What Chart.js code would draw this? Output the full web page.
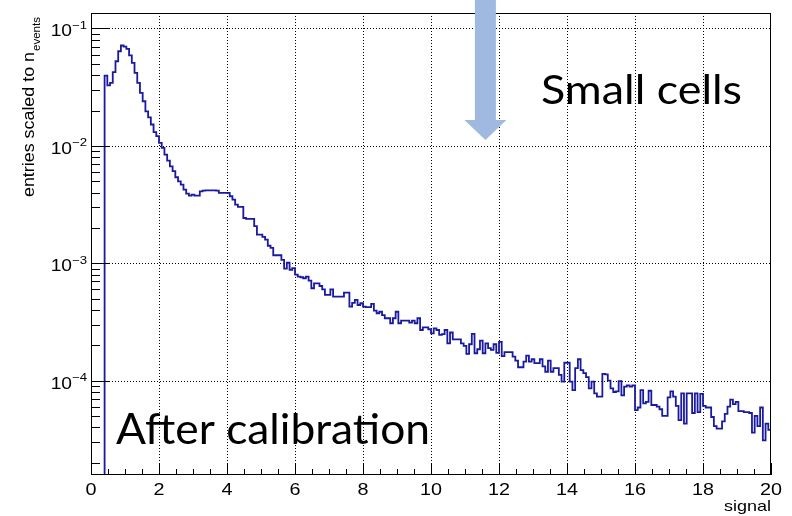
<!DOCTYPE html>
<html><head><meta charset="utf-8">
<script src="https://cdn.jsdelivr.net/npm/chart.js@4"></script>
<style>html,body{margin:0;padding:0;background:#fff}#wrap{width:792px;height:516px;position:relative}canvas{display:block}</style>
</head><body><div id="wrap"><canvas id="c" width="792" height="516"></canvas></div>
<script>
// ---- data ----
const binStart = 0.4;
const binWidth = 0.08;
const xMin = 0, xMax = 20;
const yMin = 1.57e-5, yMax = 0.1355;
const xTickValues = [0, 2, 4, 6, 8, 10, 12, 14, 16, 18, 20];
const xTickLabels = ["0", "2", "4", "6", "8", "10", "12", "14", "16", "18", "20"];
const yTickValues = [1e-1, 1e-2, 1e-3, 1e-4];
const yTickExponents = ["\u22121", "\u22122", "\u22123", "\u22124"];
const xTitle = "signal";
const yTitleMain = "entries scaled to n";
const yTitleSub = "events";
const annotationTop = "Small cells";
const annotationBottom = "After calibration";
const arrowAtX = 11.6;

// entries per bin (bin i covers binStart + i*binWidth ... + binWidth)
const entries = [
 0.0397,0.0327,0.0344,0.0425,0.0526,0.064,0.0716,0.070,0.0671,0.0591,
 0.051,0.0419,0.0344,0.0283,0.024,0.0197,0.0175,0.0152,0.0131,0.0121,
 0.0106,0.0096,0.00843,0.0075,0.0067,0.0061,0.0054,0.00499,0.00468,0.00424,
 0.00392,0.00377,0.00384,0.00377,0.00377,0.0041,0.00416,0.00418,0.00418,0.00418,
 0.00418,0.00416,0.00397,0.00397,0.00397,0.00397,0.00372,0.00348,0.00316,0.00302,
 0.00302,0.00243,0.00239,0.00239,0.00239,0.00207,0.00175,0.00175,0.00168,0.00159,
 0.00141,0.00135,0.00117,0.00117,0.00117,0.00107,0.0009,0.00101,0.00088,0.00091,
 0.0008,0.00077,0.00076,0.000745,0.00077,0.000711,0.000612,0.000675,0.000675,0.00064,
 0.0006,0.000537,0.000537,0.0006,0.000519,0.000519,0.000519,0.000519,0.000561,0.000561,
 0.000427,0.00046,0.000487,0.000441,0.000456,0.000427,0.000422,0.000422,0.00045,0.000394,
 0.000375,0.000386,0.000362,0.00034,0.00034,0.000308,0.00034,0.000386,0.000308,0.000324,
 0.000324,0.000324,0.000312,0.000324,0.000308,0.00034,0.00027,0.000284,0.000284,0.000274,
 0.000253,0.000279,0.00027,0.000245,0.000249,0.00027,0.000208,0.000257,0.000225,0.000225,
 0.000225,0.000208,0.000198,0.000169,0.000204,0.00025,0.000171,0.000185,0.000219,0.000171,
 0.000208,0.000189,0.000183,0.000204,0.000172,0.000214,0.000162,0.000175,0.000175,0.000175,
 0.00016,0.000148,0.00013,0.00013,0.000145,0.000163,0.000145,0.000152,0.000141,0.000141,
 0.000152,0.000132,0.000119,0.000148,0.000119,0.000128,0.000128,0.000112,0.000098,0.000142,
 0.000142,0.000098,0.000083,0.000128,0.000152,0.000123,0.000116,0.000107,0.000086,0.000098,
 0.000078,0.000073,0.000073,0.000114,0.000113,0.0001,0.000086,0.00008,0.000081,0.000099,
 0.000075,0.000089,0.000091,0.000089,0.000091,0.000056,0.000059,0.000083,0.000064,0.000066,
 0.000082,0.000062,0.000062,0.00006,0.000057,0.00005,0.00005,0.000072,0.000081,0.000073,
 0.000061,0.000046,0.000078,0.000043,0.000078,0.000078,0.000053,0.000078,0.000054,0.000077,
 0.000061,0.000059,0.000059,0.000049,0.000041,0.000039,0.000039,0.000045,0.000052,0.00006,
 0.000069,0.000063,0.000066,0.000055,0.000055,0.000054,0.000054,0.000053,0.000036,0.00005,
 0.000041,0.000059,0.000031,0.000043,0.000038
];

// build step-histogram points (left bin edges) from the data
const points = [{x: binStart, y: yMin / 100}];
entries.forEach((v, i) => points.push({x: binStart + i * binWidth, y: v}));
points.push({x: binStart + entries.length * binWidth, y: entries[entries.length - 1]});

const AXIS_FONT = '"Liberation Sans", Arial, sans-serif';
const SX = 1.2; // horizontal stretch of axis texts in the reference

function stretchedText(ctx, text, x, y, font, align, sx, color) {
  ctx.save();
  ctx.font = font;
  ctx.fillStyle = color || '#000';
  ctx.textBaseline = 'alphabetic';
  const w = ctx.measureText(text).width * sx;
  let x0 = x;
  if (align === 'center') x0 = x - w / 2;
  else if (align === 'right') x0 = x - w;
  ctx.translate(x0, y);
  ctx.scale(sx, 1);
  ctx.textAlign = 'left';
  ctx.fillText(text, 0, 0);
  ctx.restore();
  return w;
}
function fitText(ctx, text, x, y, font, width) {
  ctx.save();
  ctx.font = font;
  const sx = width / ctx.measureText(text).width;
  ctx.restore();
  stretchedText(ctx, text, x, y, font, 'left', sx, '#000');
}

const rootStyle = {
  id: 'rootStyle',
  beforeDatasetsDraw(chart) {
    const {ctx, chartArea: a, scales: {x, y}} = chart;
    ctx.save();
    ctx.strokeStyle = '#000';
    ctx.lineWidth = 1;
    ctx.setLineDash([1, 2]);
    xTickValues.forEach(v => {
      if (v <= xMin || v >= xMax) return;
      const px = Math.round(x.getPixelForValue(v)) + 0.5;
      ctx.beginPath(); ctx.moveTo(px, a.top); ctx.lineTo(px, a.bottom); ctx.stroke();
    });
    yTickValues.forEach(v => {
      const py = Math.round(y.getPixelForValue(v)) + 0.5;
      ctx.beginPath(); ctx.moveTo(a.left, py); ctx.lineTo(a.right, py); ctx.stroke();
    });
    ctx.restore();
  },
  afterDatasetsDraw(chart) {
    const {ctx, chartArea: a, scales: {x, y}} = chart;
    ctx.save();
    ctx.strokeStyle = '#000';
    ctx.lineWidth = 1;
    // frame
    ctx.strokeRect(Math.round(a.left) + 0.5, Math.round(a.top) + 0.5,
                   Math.round(a.right - a.left) - 1, Math.round(a.bottom - a.top) - 1);
    // y ticks (log): major at decades, minor at 2..9
    ctx.beginPath();
    for (let e = -6; e <= 0; e++) {
      for (let k = 1; k <= 9; k++) {
        const v = k * Math.pow(10, e);
        if (v < yMin || v > yMax) continue;
        const py = Math.round(y.getPixelForValue(v)) + 0.5;
        const len = k === 1 ? 18 : 9;
        ctx.moveTo(a.left, py); ctx.lineTo(a.left + len, py);
      }
    }
    // x ticks: major every 2, minor every 0.5
    for (let v = xMin; v <= xMax + 1e-9; v += 0.5) {
      const px = Math.round(x.getPixelForValue(v)) + 0.5;
      const major = Math.abs(v / 2 - Math.round(v / 2)) < 1e-9;
      const len = major ? 12 : 6;
      ctx.moveTo(px, a.bottom); ctx.lineTo(px, a.bottom - len);
    }
    ctx.stroke();

    // x tick labels
    xTickValues.forEach((v, i) => {
      stretchedText(ctx, xTickLabels[i], x.getPixelForValue(v), a.bottom + 20, '16.5px ' + AXIS_FONT, 'center', SX, '#000');
    });
    stretchedText(ctx, xTitle, a.right, a.bottom + 35.5, '15px ' + AXIS_FONT, 'right', SX, '#000');

    // y tick labels 10^n
    yTickValues.forEach((v, i) => {
      const py = y.getPixelForValue(v);
      stretchedText(ctx, '10', a.left - 19, py + 8, '16px ' + AXIS_FONT, 'right', SX, '#000');
      stretchedText(ctx, yTickExponents[i], a.left - 19, py + 0.5, '11px ' + AXIS_FONT, 'left', SX, '#000');
    });

    // y title (rotated) with subscript
    ctx.save();
    ctx.translate(34, a.top + 184);
    ctx.rotate(-Math.PI / 2);
    ctx.font = '16px ' + AXIS_FONT;
    const mw = ctx.measureText(yTitleMain).width;
    const s1 = 145 / mw;
    ctx.save(); ctx.scale(s1, 1); ctx.fillStyle = '#000'; ctx.fillText(yTitleMain, 0, 0); ctx.restore();
    ctx.font = '11px ' + AXIS_FONT;
    const sw = ctx.measureText(yTitleSub).width;
    ctx.save(); ctx.translate(145 + 1, 5.5); ctx.scale(34 / sw, 1); ctx.fillStyle = '#000'; ctx.fillText(yTitleSub, 0, 0); ctx.restore();
    ctx.restore();

    // annotations
    fitText(ctx, annotationTop, 541, 104, '40px Lato, "Open Sans", sans-serif', 201);
    fitText(ctx, annotationBottom, 116, 444, '42px Lato, "Open Sans", sans-serif', 314);

    // arrow
    const ax = x.getPixelForValue(arrowAtX);
    ctx.fillStyle = '#9fb9e1';
    ctx.beginPath();
    ctx.moveTo(ax - 10.5, 0);
    ctx.lineTo(ax + 10.5, 0);
    ctx.lineTo(ax + 10.5, 120);
    ctx.lineTo(ax + 21, 120);
    ctx.lineTo(ax, 140);
    ctx.lineTo(ax - 21, 120);
    ctx.lineTo(ax - 10.5, 120);
    ctx.closePath();
    ctx.fill();
    ctx.restore();
  }
};

new Chart(document.getElementById('c'), {
  type: 'line',
  data: {
    datasets: [{
      data: points,
      stepped: true,
      borderColor: '#1a1aa0',
      borderWidth: 1.8,
      pointRadius: 0,
      fill: false,
      tension: 0
    }]
  },
  options: {
    responsive: false,
    animation: false,
    devicePixelRatio: 1,
    layout: {padding: {left: 91, right: 21, top: 13, bottom: 41}},
    scales: {
      x: {type: 'linear', min: xMin, max: xMax, display: false},
      y: {type: 'logarithmic', min: yMin, max: yMax, display: false}
    },
    plugins: {legend: {display: false}, tooltip: {enabled: false}}
  },
  plugins: [rootStyle]
});
</script></body></html>
